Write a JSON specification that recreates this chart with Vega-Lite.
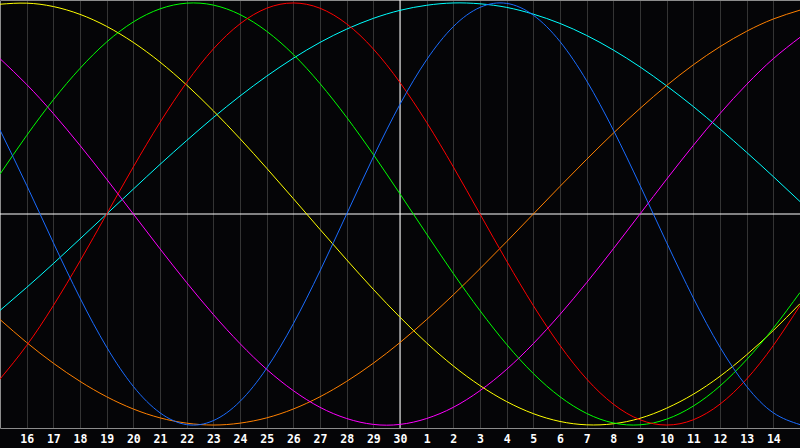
{
  "$schema": "https://vega.github.io/schema/vega-lite/v6.json",
  "width": 800,
  "height": 428,
  "autosize": "none",
  "padding": {"left": 0, "top": 0, "right": 0, "bottom": 20},
  "background": "#050507",
  "config": {"view": {"stroke": null}},
  "layer": [
    {
      "data": {"values": [{"today": 15, "zero": 0}]},
      "mark": {"type": "rule", "color": "#ffffff", "strokeWidth": 1},
      "encoding": {
        "x": {"field": "today", "type": "quantitative", "scale": {"domain": [0, 30], "nice": false, "zero": false},
          "axis": {"orient": "top", "labels": false, "ticks": false, "grid": false, "domain": true, "domainColor": "#8c8c8c", "title": null}}
      }
    },
    {
      "data": {"values": [{"today": 15, "zero": 0}]},
      "mark": {"type": "rule", "color": "#ffffff", "strokeWidth": 1},
      "encoding": {
        "y": {"field": "zero", "type": "quantitative", "scale": {"domain": [-101.4, 101.4], "nice": false, "zero": false},
          "axis": {"orient": "left", "labels": false, "ticks": false, "grid": false, "domain": true, "domainColor": "#8c8c8c", "title": null}}
      }
    },
    {
      "data": {"values": [
        {"d": 0, "P": 39.8, "E": -78.2, "I": 18.9, "N": 73.6, "A": 99.4, "W": -50.0, "S": -45.7},
        {"d": 1, "P": 13.6, "E": -62.3, "I": 37.2, "N": 61.4, "A": 99.9, "W": -60.9, "S": -34.8},
        {"d": 2, "P": -13.6, "E": -43.4, "I": 54.1, "N": 47.6, "A": 98.3, "W": -70.7, "S": -23.5},
        {"d": 3, "P": -39.8, "E": -22.3, "I": 69.0, "N": 32.5, "A": 94.6, "W": -79.3, "S": -11.8},
        {"d": 4, "P": -63.1, "E": 0, "I": 81.5, "N": 16.5, "A": 88.9, "W": -86.6, "S": 0},
        {"d": 5, "P": -81.7, "E": 22.3, "I": 91.0, "N": 0, "A": 81.3, "W": -92.4, "S": 11.8},
        {"d": 6, "P": -94.2, "E": 43.4, "I": 97.2, "N": -16.5, "A": 72.0, "W": -96.6, "S": 23.5},
        {"d": 7, "P": -99.8, "E": 62.3, "I": 99.9, "N": -32.5, "A": 61.1, "W": -99.1, "S": 34.8},
        {"d": 8, "P": -97.9, "E": 78.2, "I": 99.0, "N": -47.6, "A": 48.9, "W": -100, "S": 45.7},
        {"d": 9, "P": -88.8, "E": 90.1, "I": 94.5, "N": -61.4, "A": 35.7, "W": -99.1, "S": 55.9},
        {"d": 10, "P": -73.1, "E": 97.5, "I": 86.6, "N": -73.6, "A": 21.7, "W": -96.6, "S": 65.3},
        {"d": 11, "P": -52.0, "E": 100, "I": 75.6, "N": -83.7, "A": 7.3, "W": -92.4, "S": 73.8},
        {"d": 12, "P": -27.0, "E": 97.5, "I": 61.8, "N": -91.6, "A": -7.3, "W": -86.6, "S": 81.3},
        {"d": 13, "P": 0, "E": 90.1, "I": 45.8, "N": -96.9, "A": -21.7, "W": -79.3, "S": 87.6},
        {"d": 14, "P": 27.0, "E": 78.2, "I": 28.2, "N": -99.7, "A": -35.7, "W": -70.7, "S": 92.7},
        {"d": 15, "P": 52.0, "E": 62.3, "I": 9.5, "N": -99.7, "A": -48.9, "W": -60.9, "S": 96.5},
        {"d": 16, "P": 73.1, "E": 43.4, "I": -9.5, "N": -96.9, "A": -61.1, "W": -50.0, "S": 98.9},
        {"d": 17, "P": 88.8, "E": 22.3, "I": -28.2, "N": -91.6, "A": -72.0, "W": -38.3, "S": 100},
        {"d": 18, "P": 97.9, "E": 0, "I": -45.8, "N": -83.7, "A": -81.3, "W": -25.9, "S": 99.6},
        {"d": 19, "P": 99.8, "E": -22.3, "I": -61.8, "N": -73.6, "A": -88.9, "W": -13.1, "S": 97.9},
        {"d": 20, "P": 94.2, "E": -43.4, "I": -75.6, "N": -61.4, "A": -94.6, "W": 0, "S": 94.7},
        {"d": 21, "P": 81.7, "E": -62.3, "I": -86.6, "N": -47.6, "A": -98.3, "W": 13.1, "S": 90.3},
        {"d": 22, "P": 63.1, "E": -78.2, "I": -94.5, "N": -32.5, "A": -99.9, "W": 25.9, "S": 84.6},
        {"d": 23, "P": 39.8, "E": -90.1, "I": -99.0, "N": -16.5, "A": -99.4, "W": 38.3, "S": 77.7},
        {"d": 24, "P": 13.6, "E": -97.5, "I": -99.9, "N": 0, "A": -96.8, "W": 50.0, "S": 69.7},
        {"d": 25, "P": -13.6, "E": -100, "I": -97.2, "N": 16.5, "A": -92.0, "W": 60.9, "S": 60.7},
        {"d": 26, "P": -39.8, "E": -97.5, "I": -91.0, "N": 32.5, "A": -85.4, "W": 70.7, "S": 50.9},
        {"d": 27, "P": -63.1, "E": -90.1, "I": -81.5, "N": 47.6, "A": -76.9, "W": 79.3, "S": 40.3},
        {"d": 28, "P": -81.7, "E": -78.2, "I": -69.0, "N": 61.4, "A": -66.7, "W": 86.6, "S": 29.2},
        {"d": 29, "P": -94.2, "E": -62.3, "I": -54.1, "N": 73.6, "A": -55.2, "W": 92.4, "S": 17.7},
        {"d": 30, "P": -99.8, "E": -43.4, "I": -37.2, "N": 83.7, "A": -42.5, "W": 96.6, "S": 5.9}
      ]},
      "transform": [{"fold": ["S", "W", "N", "A", "I", "E", "P"], "as": ["cycle", "v"]}],
      "mark": {"type": "line", "interpolate": "natural", "strokeWidth": 1, "clip": true},
      "encoding": {
        "x": {"field": "d", "type": "quantitative", "scale": {"domain": [0, 30], "nice": false, "zero": false},
          "axis": {"orient": "bottom", "values": [1,2,3,4,5,6,7,8,9,10,11,12,13,14,15,16,17,18,19,20,21,22,23,24,25,26,27,28,29],
            "labelExpr": "datum.value <= 15 ? datum.value + 15 : datum.value - 15",
            "labelColor": "#ffffff", "labelFont": "DejaVu Sans Mono", "labelFontWeight": "bold", "labelFontSize": 11.5,
            "labelPadding": 5, "labelFlush": false, "labelOverlap": false,
            "ticks": false, "grid": true, "gridColor": "#343434", "gridWidth": 1,
            "domain": true, "domainColor": "#8c8c8c", "title": null}},
        "y": {"field": "v", "type": "quantitative", "scale": {"domain": [-101.4, 101.4], "nice": false, "zero": false}},
        "color": {"field": "cycle", "type": "nominal", "legend": null,
          "scale": {"domain": ["P", "E", "I", "N", "A", "W", "S"],
            "range": ["#1a6cff", "#ff0000", "#00ff00", "#ff00ff", "#ffff00", "#ff8000", "#00ffff"]}},
        "order": {"field": "d", "type": "quantitative"}
      }
    }
  ]
}
